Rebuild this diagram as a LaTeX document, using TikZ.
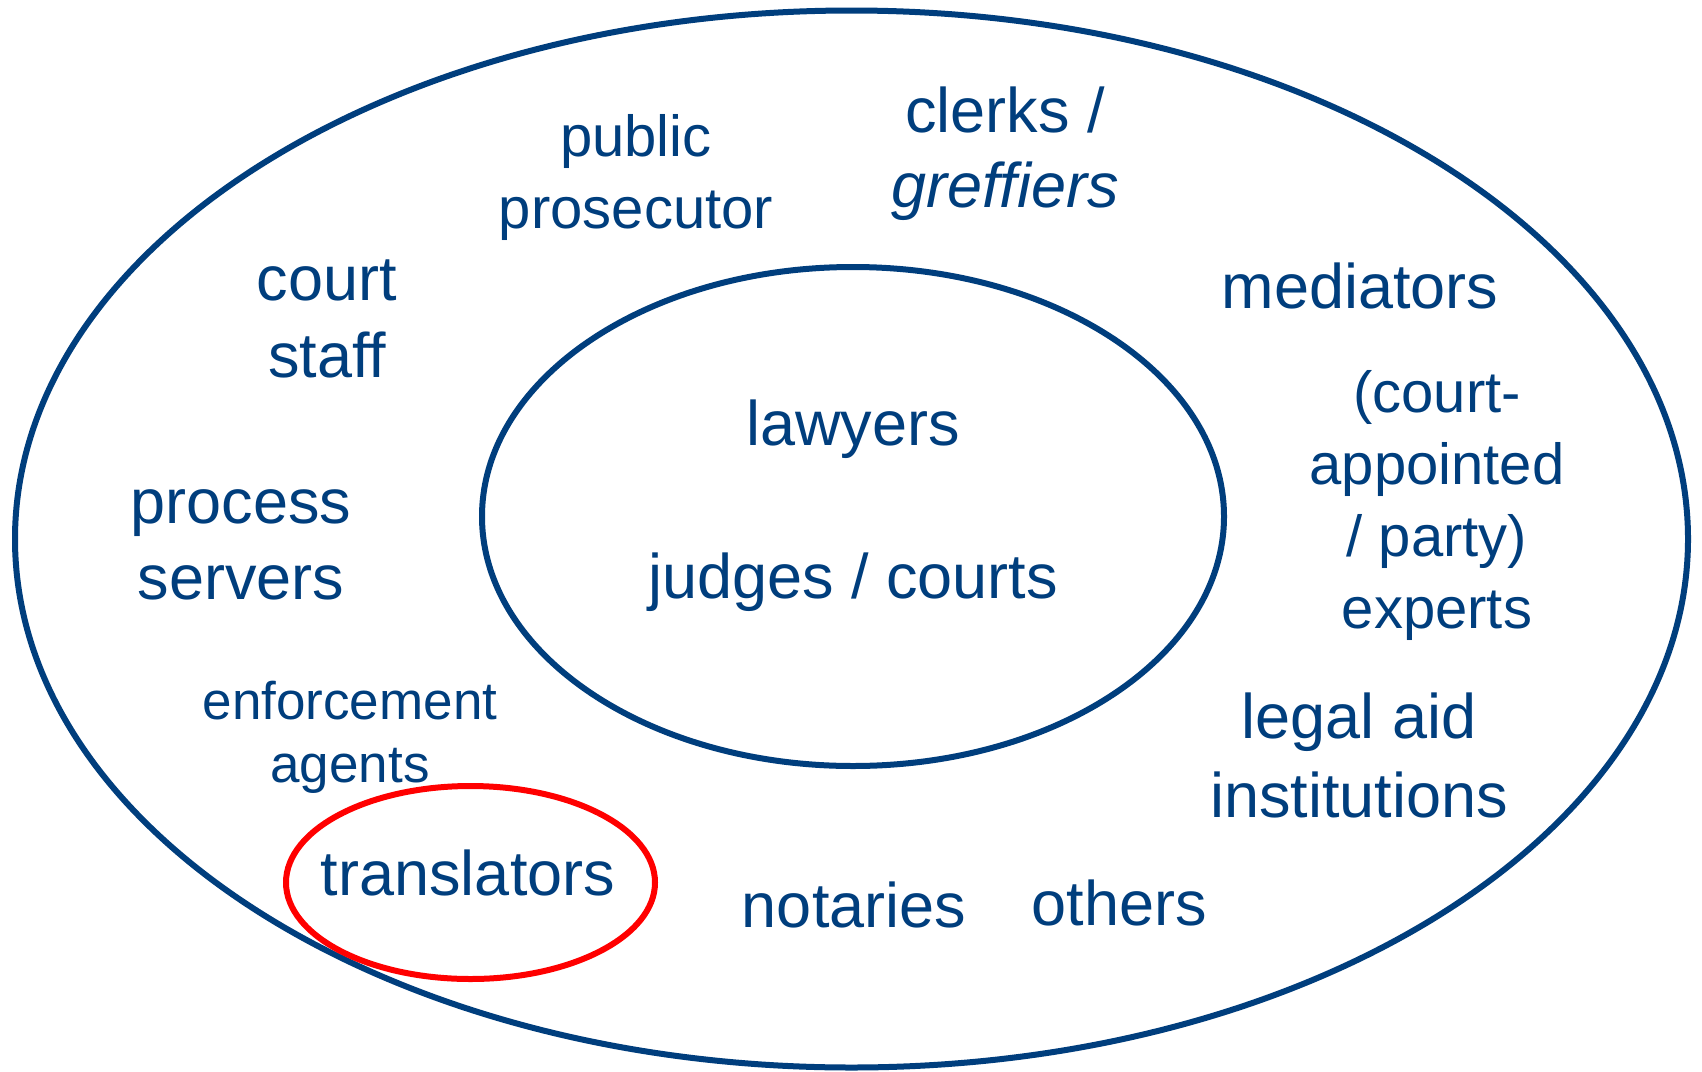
\documentclass[tikz,border=0pt]{standalone}
\usepackage{fontspec}
\setmainfont{Liberation Sans}
\definecolor{navy}{RGB}{0,62,125}
\definecolor{ringred}{RGB}{255,0,0}
% centred multi-line text whose baseline is that of its first line
\newcommand{\txtlines}[1]{\begin{tabular}[t]{@{}c@{}}#1\end{tabular}}
\begin{document}
\begin{tikzpicture}[x=1pt,y=-1pt,
  ring/.style={draw=navy,line width=6pt},
  mark ring/.style={draw=ringred,line width=6pt},
  lbl/.style={text=navy,inner sep=0pt,anchor=base}
]
\useasboundingbox (0,0) rectangle (1702,1071);
\fill[white] (0,0) rectangle (1702,1071);

% the rings
\draw[ring] (851.5,539) ellipse [x radius=836.5, y radius=528.5];
\draw[ring] (853,516.5) ellipse [x radius=371, y radius=249.5];
\draw[mark ring] (470.5,882.5) ellipse [x radius=184.5, y radius=96.5];

% inner circle
\node[lbl,font=\fontsize{63}{77}\selectfont] (lawyers) at (853,445) {lawyers};
\node[lbl,font=\fontsize{63}{77}\selectfont] (judges) at (853,598) {judges / courts};

% outer circle
\node[lbl,font=\fontsize{58}{72}\selectfont] (prosecutor) at (636,156)
  {\txtlines{public\\prosecutor}};
\node[lbl,font=\fontsize{63}{75}\selectfont] (clerks) at (1005,132)
  {\txtlines{clerks /\\\itshape greffiers}};
\node[lbl,font=\fontsize{63}{77}\selectfont] (staff) at (327,300) {\txtlines{court\\staff}};
\node[lbl,font=\fontsize{63}{76}\selectfont] (servers) at (241,523) {\txtlines{process\\servers}};
\node[lbl,font=\fontsize{53}{63}\selectfont] (enforcement) at (350,719) {\txtlines{enforcement\\agents}};
\node[lbl,font=\fontsize{63}{77}\selectfont] (translators) at (468,895) {translators};
\node[lbl,font=\fontsize{63}{77}\selectfont] (notaries) at (854,927) {notaries};
\node[lbl,font=\fontsize{63}{77}\selectfont] (others) at (1119,925) {others};
\node[lbl,font=\fontsize{63}{77}\selectfont] (mediators) at (1360,308) {mediators};
\node[lbl,font=\fontsize{58}{72}\selectfont] (experts) at (1437,412)
  {\txtlines{(court-\\appointed\\/ party)\\experts}};
\node[lbl,font=\fontsize{63}{79}\selectfont] (legalaid) at (1359,738) {\txtlines{legal aid\\institutions}};
\end{tikzpicture}
\end{document}
